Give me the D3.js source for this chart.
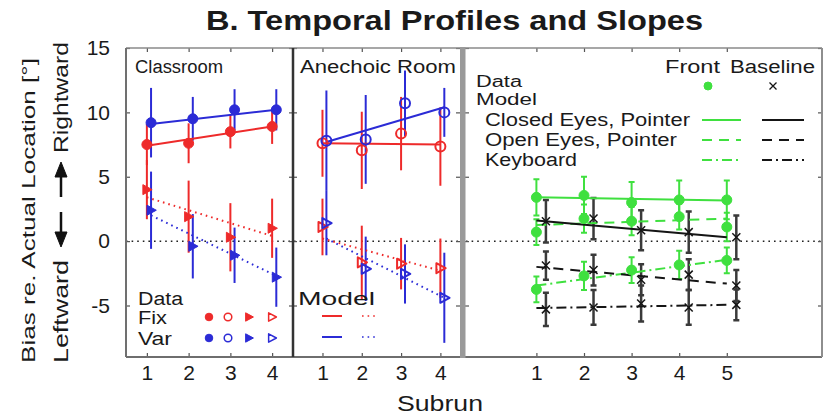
<!DOCTYPE html>
<html>
<head>
<meta charset="utf-8">
<script src="https://cdn.jsdelivr.net/npm/d3@7"></script>
<style>
  html, body { margin: 0; padding: 0; background: #fff; }
  svg { display: block; font-family: "Liberation Sans", Arial, Helvetica, sans-serif; }
</style>
</head>
<body>
<svg id="chart" width="829" height="415"></svg>
<script>
// ---- data -------------------------------------------------------------
const subrunsRoom = [1, 2, 3, 4];
const subrunsPos = [1, 2, 3, 4, 5];
const yTicks = [-5, 0, 5, 10, 15];
const roomTickLabels = ["1", "2", "3", "4"];
const posTickLabels = ["1", "2", "3", "4", "5"];

// Classroom (means and error half-widths per subrun, degrees)
const classFixStatic = [7.5, 7.6, 8.5, 8.9];
const classFixStaticErr = [1.6, 1.55, 1.3, 1.35];
const classVarStatic = [9.2, 9.5, 10.2, 10.2];
const classVarStaticErr = [2.7, 1.7, 1.6, 1.6];
const classFixDynamic = [4.0, 1.9, 0.3, 1.0];
const classFixDynamicErr = [2.3, 2.8, 2.65, 2.3];
const classVarDynamic = [2.4, -0.4, -1.1, -2.8];
const classVarDynamicErr = [3.0, 2.5, 2.15, 2.3];
// model fits, value at first and last subrun
const classFixStaticFit = [7.4, 8.9];
const classVarStaticFit = [9.1, 10.2];
const classFixDynamicFit = [3.4, 0.4];
const classVarDynamicFit = [2.0, -2.7];

// Anechoic room
const anFixStatic = [7.6, 7.05, 8.35, 7.35];
const anFixStaticErr = [2.6, 3.0, 2.85, 3.05];
const anVarStatic = [7.8, 7.9, 10.7, 10.0];
const anVarStaticErr = [3.9, 3.45, 2.55, 1.9];
const anFixDynamic = [1.1, -1.65, -1.75, -2.1];
const anFixDynamicErr = [2.2, 2.85, 2.0, 2.3];
const anVarDynamic = [1.4, -2.15, -2.55, -4.4];
const anVarDynamicErr = [2.5, 2.5, 2.3, 3.5];
const anFixStaticFit = [7.6, 7.5];
const anVarStaticFit = [7.7, 10.4];
const anFixDynamicFit = [0.2, -2.3];
const anVarDynamicFit = [0.2, -4.4];

// Position experiment: Front vs Baseline, three response conditions
const frontClosed = [3.4, 3.55, 3.0, 3.2, 3.2];
const frontClosedErr = [1.4, 1.45, 1.6, 1.5, 1.5];
const frontOpen = [0.7, 1.75, 1.55, 1.9, 1.1];
const frontOpenErr = [1.0, 1.1, 1.1, 1.0, 1.1];
const frontKeyboard = [-3.75, -2.7, -2.25, -1.85, -1.5];
const frontKeyboardErr = [1.0, 1.1, 1.0, 1.1, 1.0];
const baseClosed = [1.55, 1.75, 0.85, 0.7, 0.3];
const baseClosedErr = [1.65, 1.6, 1.55, 1.6, 1.7];
const baseOpen = [-1.9, -2.25, -3.0, -2.6, -3.45];
const baseOpenErr = [1.1, 1.2, 1.2, 1.2, 1.2];
const baseKeyboard = [-5.3, -5.15, -4.85, -5.15, -4.95];
const baseKeyboardErr = [1.3, 1.35, 1.4, 1.35, 1.2];
const frontClosedFit = [3.4, 3.15];
const frontOpenFit = [1.25, 1.75];
const frontKeyboardFit = [-3.45, -1.45];
const baseClosedFit = [1.6, 0.3];
const baseOpenFit = [-2.0, -3.3];
const baseKeyboardFit = [-5.2, -4.95];

// ---- setup ------------------------------------------------------------
const RED = "#ee2a2a", BLUE = "#2b2bd6", GREEN = "#3fe03f", INK = "#151515", BARGRAY = "#3a3a3a";
const svg = d3.select("#chart");
const TOP = 48, BOTTOM = 357;

const y = d3.scaleLinear().domain([-9, 15]).range([BOTTOM, TOP]);
const xClass = d3.scaleLinear().domain([0.5, 4.5]).range([126, 293]);
const xAnech = d3.scaleLinear().domain([0.25, 4.55]).range([293, 462]);
const xPos = d3.scaleLinear().domain([-0.5, 7]).range([465, 822]);

function addText(parent, str, x, yy, size, len, weight) {
  const t = parent.append("text").attr("x", x).attr("y", yy)
    .attr("font-size", size).attr("fill", "#1a1a1a").text(str);
  if (len) t.attr("textLength", len).attr("lengthAdjust", "spacingAndGlyphs");
  if (weight) t.attr("font-weight", weight);
  return t;
}

function marker(g, shape, filled, cx, cy, color, s, sw) {
  if (shape === "circle") {
    g.append("circle").attr("cx", cx).attr("cy", cy).attr("r", s)
      .attr("fill", filled ? color : "none").attr("stroke", color).attr("stroke-width", filled ? 1 : sw);
  } else if (shape === "triangle") {
    g.append("path")
      .attr("d", `M${cx - s * 0.8},${cy - s}L${cx + s * 1.05},${cy}L${cx - s * 0.8},${cy + s}Z`)
      .attr("fill", filled ? color : "none").attr("stroke", color)
      .attr("stroke-width", filled ? 1 : sw).attr("stroke-linejoin", "round");
  } else if (shape === "cross") {
    g.append("path")
      .attr("d", `M${cx - s},${cy - s}L${cx + s},${cy + s}M${cx - s},${cy + s}L${cx + s},${cy - s}`)
      .attr("stroke", color).attr("stroke-width", sw);
  }
}

// ---- room panels (Classroom, Anechoic Room) ----------------------------
const roomSeries = [
  { x: xClass, m: classFixStatic, e: classFixStaticErr, fit: classFixStaticFit, c: RED, dx: 0, shape: "circle", filled: true, dash: null },
  { x: xClass, m: classVarStatic, e: classVarStaticErr, fit: classVarStaticFit, c: BLUE, dx: 0.1, shape: "circle", filled: true, dash: null },
  { x: xClass, m: classFixDynamic, e: classFixDynamicErr, fit: classFixDynamicFit, c: RED, dx: 0, shape: "triangle", filled: true, dash: "1.6,4" },
  { x: xClass, m: classVarDynamic, e: classVarDynamicErr, fit: classVarDynamicFit, c: BLUE, dx: 0.1, shape: "triangle", filled: true, dash: "1.6,4" },
  { x: xAnech, m: anFixStatic, e: anFixStaticErr, fit: anFixStaticFit, c: RED, dx: 0, shape: "circle", filled: false, dash: null },
  { x: xAnech, m: anVarStatic, e: anVarStaticErr, fit: anVarStaticFit, c: BLUE, dx: 0.1, shape: "circle", filled: false, dash: null },
  { x: xAnech, m: anFixDynamic, e: anFixDynamicErr, fit: anFixDynamicFit, c: RED, dx: 0, shape: "triangle", filled: false, dash: "1.6,4" },
  { x: xAnech, m: anVarDynamic, e: anVarDynamicErr, fit: anVarDynamicFit, c: BLUE, dx: 0.1, shape: "triangle", filled: false, dash: "1.6,4" }
];

// zero reference line
svg.append("g").selectAll("line").data([[126, 460], [466, 822]]).join("line")
  .attr("x1", d => d[0]).attr("x2", d => d[1]).attr("y1", y(0)).attr("y2", y(0))
  .attr("stroke", "#222").attr("stroke-width", 1.5).attr("stroke-dasharray", "1.6,4");

const gBars = svg.append("g"), gFits = svg.append("g"), gMarks = svg.append("g");

roomSeries.forEach(s => {
  subrunsRoom.forEach((r, i) => {
    gBars.append("line")
      .attr("x1", s.x(r + s.dx)).attr("x2", s.x(r + s.dx))
      .attr("y1", y(s.m[i] - s.e[i])).attr("y2", y(s.m[i] + s.e[i]))
      .attr("stroke", s.c).attr("stroke-width", 2);
  });
  const first = subrunsRoom[0], last = subrunsRoom[subrunsRoom.length - 1];
  gFits.append("line")
    .attr("x1", s.x(first + s.dx)).attr("x2", s.x(last + s.dx))
    .attr("y1", y(s.fit[0])).attr("y2", y(s.fit[1]))
    .attr("stroke", s.c).attr("stroke-width", 2)
    .attr("stroke-dasharray", s.dash);
  subrunsRoom.forEach((r, i) => {
    marker(gMarks, s.shape, s.filled, s.x(r + s.dx), y(s.m[i]), s.c, 5, 2);
  });
});

// ---- position panel (Front vs Baseline) ---------------------------------
const DASH = "10,7", DASHDOT = "10,4,2,4";
const posSeries = [
  { m: frontClosed, e: frontClosedErr, fit: frontClosedFit, c: GREEN, dx: 0, dash: null, front: true },
  { m: frontOpen, e: frontOpenErr, fit: frontOpenFit, c: GREEN, dx: 0, dash: DASH, front: true },
  { m: frontKeyboard, e: frontKeyboardErr, fit: frontKeyboardFit, c: GREEN, dx: 0, dash: DASHDOT, front: true },
  { m: baseClosed, e: baseClosedErr, fit: baseClosedFit, c: INK, dx: 0.2, dash: null, front: false },
  { m: baseOpen, e: baseOpenErr, fit: baseOpenFit, c: INK, dx: 0.2, dash: DASH, front: false },
  { m: baseKeyboard, e: baseKeyboardErr, fit: baseKeyboardFit, c: INK, dx: 0.2, dash: DASHDOT, front: false }
];

posSeries.forEach(s => {
  const barColor = s.front ? GREEN : BARGRAY;
  subrunsPos.forEach((r, i) => {
    const cx = xPos(r + s.dx), y1 = y(s.m[i] - s.e[i]), y2 = y(s.m[i] + s.e[i]);
    gBars.append("path")
      .attr("d", `M${cx},${y1}V${y2}M${cx - 3},${y1}H${cx + 3}M${cx - 3},${y2}H${cx + 3}`)
      .attr("stroke", barColor).attr("stroke-width", s.front ? 2 : 2.5).attr("fill", "none");
  });
  gFits.append("line")
    .attr("x1", xPos(subrunsPos[0])).attr("x2", xPos(subrunsPos[subrunsPos.length - 1]))
    .attr("y1", y(s.fit[0])).attr("y2", y(s.fit[1]))
    .attr("stroke", s.c).attr("stroke-width", 2).attr("stroke-dasharray", s.dash);
  subrunsPos.forEach((r, i) => {
    if (s.front) marker(gMarks, "circle", true, xPos(r + s.dx), y(s.m[i]), GREEN, 5, 1);
    else marker(gMarks, "cross", false, xPos(r + s.dx), y(s.m[i]), INK, 4, 1.5);
  });
});

// ---- axes -------------------------------------------------------------
const tickColor = "#555";
function styleAxis(g, size) {
  g.select(".domain").remove();
  g.selectAll(".tick line").attr("stroke", tickColor).attr("stroke-width", 1.2);
  g.selectAll(".tick text").attr("font-size", size).attr("fill", "#1a1a1a")
    .attr("font-family", '"Liberation Sans", Arial, sans-serif');
}

[[xClass, subrunsRoom, roomTickLabels], [xAnech, subrunsRoom, roomTickLabels], [xPos, subrunsPos, posTickLabels]]
  .forEach(([sc, vals, labs]) => {
    svg.append("g").attr("transform", `translate(0,${BOTTOM})`)
      .call(d3.axisBottom(sc).tickValues(vals).tickFormat((d, i) => labs[i]).tickSize(-4).tickPadding(8).tickSizeOuter(0))
      .call(g => styleAxis(g, 21));
    svg.append("g").attr("transform", `translate(0,${TOP})`)
      .call(d3.axisTop(sc).tickValues(vals).tickFormat("").tickSize(-4).tickSizeOuter(0))
      .call(g => styleAxis(g, 21));
  });

svg.append("g").attr("transform", "translate(126,0)")
  .call(d3.axisLeft(y).tickValues(yTicks).tickFormat(d => String(d)).tickSize(-4).tickPadding(16).tickSizeOuter(0))
  .call(g => styleAxis(g, 21));
[[293, d3.axisRight], [293, d3.axisLeft], [460, d3.axisRight], [465, d3.axisLeft], [822, d3.axisRight]]
  .forEach(([xx, ax]) => {
    svg.append("g").attr("transform", `translate(${xx},0)`)
      .call(ax(y).tickValues(yTicks).tickFormat("").tickSize(-4).tickSizeOuter(0))
      .call(g => styleAxis(g, 21));
  });

// ---- panel frames -----------------------------------------------------
const frame = svg.append("g").attr("fill", "none");
frame.append("path").attr("d", `M126,${TOP}H460M465,${TOP}H822`).attr("stroke", "#8a8a8a").attr("stroke-width", 1.5);
frame.append("path").attr("d", `M126,${BOTTOM}H460M465,${BOTTOM}H822`).attr("stroke", "#6e6e6e").attr("stroke-width", 2);
frame.append("path").attr("d", `M126,${TOP}V${BOTTOM}`).attr("stroke", "#707070").attr("stroke-width", 2);
frame.append("path").attr("d", `M822,${TOP}V${BOTTOM}`).attr("stroke", "#8e8e8e").attr("stroke-width", 2);
frame.append("path").attr("d", `M293,${TOP}V${BOTTOM}`).attr("stroke", "#333").attr("stroke-width", 2.5);
frame.append("rect").attr("x", 460).attr("y", TOP - 1).attr("width", 5.5).attr("height", BOTTOM - TOP + 2)
  .attr("fill", "#9a9a9a");

// ---- texts ------------------------------------------------------------
addText(svg, "B. Temporal Profiles and Slopes", 206, 30, 28, 497, "bold");
addText(svg, "Subrun", 397, 411, 22, 86);

const yl1 = svg.append("g").attr("transform", "translate(35,363) rotate(-90)");
addText(yl1, "Bias re. Actual Location [°]", 0, 0, 19, 305);
const yl2 = svg.append("g").attr("transform", "translate(68,363) rotate(-90)");
addText(yl2, "Leftward", 0, 0, 20, 103);
const yl3 = svg.append("g").attr("transform", "translate(68,153) rotate(-90)");
addText(yl3, "Rightward", 0, 0, 20, 111);
// direction arrows between the two words
const arrows = svg.append("g").attr("fill", "#111").attr("stroke", "#111");
arrows.append("path").attr("d", "M61,212V236").attr("stroke-width", 2.5);
arrows.append("path").attr("d", "M55,232L61,247L67,232Z").attr("stroke-width", 1);
arrows.append("path").attr("d", "M61,197V173").attr("stroke-width", 2.5);
arrows.append("path").attr("d", "M55,177L61,162L67,177Z").attr("stroke-width", 1);

addText(svg, "Classroom", 135, 73, 18, 88);
addText(svg, "Anechoic Room", 300, 73, 18, 156);

// Classroom legend: data markers
addText(svg, "Data", 138, 305, 18, 45);
addText(svg, "Fix", 138, 324, 18, 29);
addText(svg, "Var", 138, 345, 18, 34);
const legRows = [[RED, 317], [BLUE, 338]];
const legShapes = [["circle", true, 209], ["circle", false, 228], ["triangle", true, 249], ["triangle", false, 272]];
const gLeg = svg.append("g");
legRows.forEach(([c, yy]) => legShapes.forEach(([sh, f, xx]) => marker(gLeg, sh, f, xx, yy, c, sh === "circle" ? 3.8 : 4.2, 1.5)));

// Anechoic legend: model lines
addText(svg, "Model", 298, 305, 18, 77);
[[RED, 316], [BLUE, 337]].forEach(([c, yy]) => {
  gLeg.append("line").attr("x1", 322).attr("x2", 342).attr("y1", yy).attr("y2", yy).attr("stroke", c).attr("stroke-width", 2);
  gLeg.append("line").attr("x1", 362).attr("x2", 378).attr("y1", yy).attr("y2", yy).attr("stroke", c)
    .attr("stroke-width", 1.5).attr("stroke-dasharray", "1.6,4");
});

// Position legend
addText(svg, "Front", 665, 73, 18, 55);
addText(svg, "Baseline", 730, 73, 18, 85);
addText(svg, "Data", 476, 86.5, 16, 46);
addText(svg, "Model", 476, 105, 16, 61);
addText(svg, "Closed Eyes, Pointer", 485, 126, 18, 205);
addText(svg, "Open Eyes, Pointer", 485, 146, 18, 192);
addText(svg, "Keyboard", 485, 166, 18, 92);
marker(gLeg, "circle", true, 708, 86, GREEN, 4, 1);
marker(gLeg, "cross", false, 773, 86, INK, 3.5, 1.3);
[[null, 120], [DASH, 140], [DASHDOT, 160]].forEach(([dash, yy]) => {
  gLeg.append("line").attr("x1", 702).attr("x2", 741).attr("y1", yy).attr("y2", yy)
    .attr("stroke", GREEN).attr("stroke-width", 2).attr("stroke-dasharray", dash);
  gLeg.append("line").attr("x1", 762).attr("x2", 804).attr("y1", yy).attr("y2", yy)
    .attr("stroke", INK).attr("stroke-width", 2).attr("stroke-dasharray", dash);
});
</script>
</body>
</html>
